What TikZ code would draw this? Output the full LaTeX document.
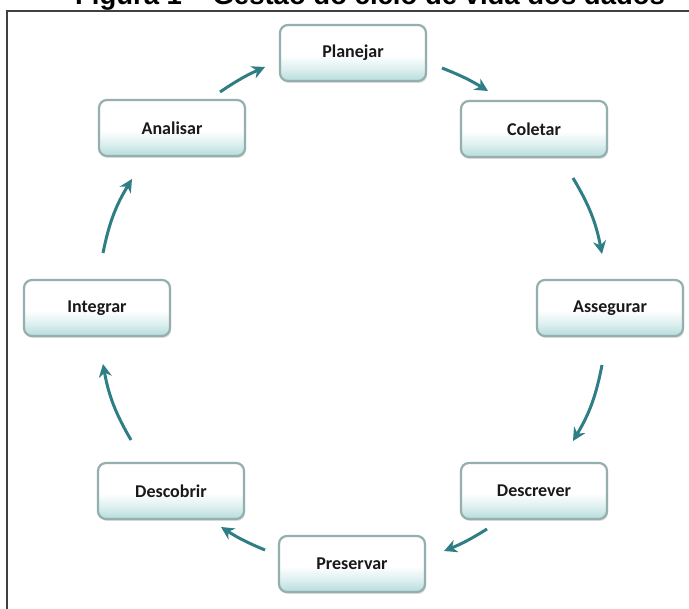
\documentclass[tikz,border=0pt]{standalone}
\usepackage{fontspec}
\setmainfont{Carlito}
\newfontfamily\titlefont{Liberation Sans}
\usetikzlibrary{arrows.meta,shadows}
\definecolor{arrowc}{HTML}{2F7E86}
\definecolor{boxborder}{HTML}{95AEAE}
\definecolor{boxbottom}{HTML}{B5DCDC}
\pgfdeclareverticalshading{boxshade}{100bp}{color(0bp)=(boxbottom); color(25bp)=(boxbottom); color(36bp)=(boxbottom!45!white); color(48bp)=(white); color(100bp)=(white)}
\begin{document}
\begin{tikzpicture}[x=1pt,y=-1pt,
  stage/.style={draw=boxborder, line width=2.2pt, rounded corners=8pt,
    shading=boxshade,
    minimum width=146pt, minimum height=56pt,
    font=\bfseries\fontsize{18}{20}\selectfont, text=black!90,
    drop shadow={opacity=0.25, shadow xshift=1pt, shadow yshift=-2pt}},
  flow/.style={draw=arrowc, line width=3pt, -{Stealth[length=13pt,width=13pt]}}]
\useasboundingbox (0,0) rectangle (689,609);
\fill[white] (0,0) rectangle (689,609);
\begin{scope}
\clip (0,0) rectangle (689,609);
\node[anchor=base, font=\titlefont\bfseries\fontsize{27.5}{30}\selectfont] (title) at (370,5) {Figura 1 – Gestão do ciclo de vida dos dados};
\end{scope}
\draw[line width=1.2pt, black!75] (7,612) -- (7,11) -- (692,11);

\node[stage] (planejar) at (353,53) {Planejar};
\node[stage] (coletar) at (534,129) {Coletar};
\node[stage] (assegurar) at (610,308) {Assegurar};
\node[stage] (descrever) at (534,491) {Descrever};
\node[stage] (preservar) at (352,564) {Preservar};
\node[stage] (descobrir) at (171,491) {Descobrir};
\node[stage] (integrar) at (97,308) {Integrar};
\node[stage] (analisar) at (172,128) {Analisar};

\coordinate (a1s) at (220,92);  \coordinate (a1e) at (265,67);
\coordinate (a2s) at (442,68);  \coordinate (a2e) at (488,91);
\coordinate (a3s) at (573,178); \coordinate (a3e) at (602,254);
\coordinate (a4s) at (602,365); \coordinate (a4e) at (573,441);
\coordinate (a5s) at (487,529); \coordinate (a5e) at (444,551);
\coordinate (a6s) at (265,550); \coordinate (a6e) at (221,527);
\coordinate (a7s) at (131,440); \coordinate (a7e) at (103,364);
\coordinate (a8s) at (103,253); \coordinate (a8e) at (132,179);

\draw[flow] (a1s) to[bend left=5] (a1e);
\draw[flow] (a2s) to[bend left=5] (a2e);
\draw[flow] (a3s) to[bend left=10] (a3e);
\draw[flow] (a4s) to[bend left=10] (a4e);
\draw[flow] (a5s) to[bend left=5] (a5e);
\draw[flow] (a6s) to[bend left=5] (a6e);
\draw[flow] (a7s) to[bend left=10] (a7e);
\draw[flow] (a8s) to[bend left=10] (a8e);
\end{tikzpicture}
\end{document}
